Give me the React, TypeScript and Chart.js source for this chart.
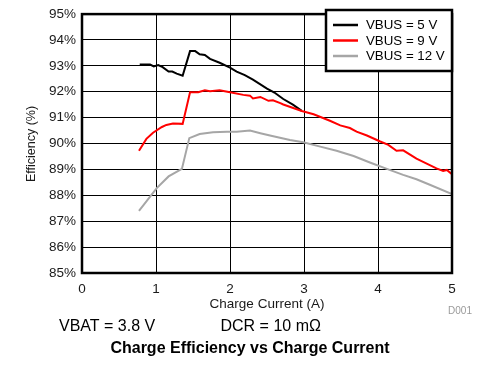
import React, { useEffect, useRef } from "react";
import { Chart, registerables } from "chart.js";

Chart.register(...registerables);

const seriesNames = ["VBUS = 5 V", "VBUS = 9 V", "VBUS = 12 V"];
const seriesColors = ["#000000", "#ff0000", "#a6a6a6"];

const vbus5X = [0.78, 0.92, 0.97, 1.03, 1.09, 1.17, 1.22, 1.28, 1.36, 1.46, 1.53, 1.59, 1.66, 1.73, 1.86, 2.0, 2.09, 2.2, 2.31, 2.5, 2.6, 2.72, 2.85, 2.97];
const vbus5Y = [93.05, 93.05, 92.98, 93.03, 92.95, 92.78, 92.78, 92.7, 92.62, 93.57, 93.57, 93.45, 93.42, 93.27, 93.12, 92.93, 92.78, 92.64, 92.47, 92.12, 91.97, 91.72, 91.5, 91.26];

const vbus9X = [0.77, 0.87, 0.96, 1.08, 1.14, 1.23, 1.36, 1.46, 1.57, 1.66, 1.73, 1.86, 2.0, 2.18, 2.27, 2.31, 2.41, 2.52, 2.58, 2.68, 2.72, 2.97, 3.13, 3.35, 3.49, 3.62, 3.71, 3.85, 4.03, 4.14, 4.25, 4.34, 4.52, 4.7, 4.79, 4.88, 4.93, 5.0];
const vbus9Y = [89.72, 90.18, 90.42, 90.64, 90.72, 90.77, 90.76, 91.98, 91.98, 92.06, 92.02, 92.06, 91.98, 91.88, 91.85, 91.74, 91.8, 91.65, 91.67, 91.56, 91.51, 91.26, 91.13, 90.88, 90.7, 90.6, 90.46, 90.31, 90.08, 89.95, 89.72, 89.74, 89.42, 89.17, 89.04, 88.94, 88.98, 88.81];

const vbus12X = [0.77, 1.01, 1.17, 1.35, 1.45, 1.59, 1.77, 1.96, 2.09, 2.27, 2.41, 2.54, 2.81, 2.99, 3.22, 3.44, 3.67, 3.89, 4.12, 4.34, 4.52, 4.7, 5.0];
const vbus12Y = [87.4, 88.28, 88.73, 89.02, 90.21, 90.37, 90.44, 90.46, 90.46, 90.5, 90.4, 90.31, 90.14, 90.05, 89.88, 89.72, 89.52, 89.27, 89.02, 88.79, 88.62, 88.41, 88.05];

const xTickValues = [0, 1, 2, 3, 4, 5];
const yTickValues = [85, 86, 87, 88, 89, 90, 91, 92, 93, 94, 95];

const xTitle = "Charge Current (A)";
const yTitle = "Efficiency (%)";
const noteLeft = "VBAT = 3.8 V";
const noteRight = "DCR = 10 mΩ";
const chartTitle = "Charge Efficiency vs Charge Current";
const figId = "D001";

const FONT = "'Liberation Sans', Arial, sans-serif";

function pts(xs: number[], ys: number[]) {
  return xs.map((x, i) => ({ x, y: ys[i] }));
}

const decorPlugin = {
  id: "decor",
  afterDraw(chart: any) {
    const { ctx, chartArea } = chart;
    const { left, right, top, bottom } = chartArea;
    ctx.save();
    // frame
    ctx.strokeStyle = "#000";
    ctx.lineWidth = 2.5;
    ctx.strokeRect(left, top, right - left, bottom - top);

    // legend
    const lx = 326, ly = 10, lw = right - 326, lh = 61;
    ctx.fillStyle = "#fff";
    ctx.fillRect(lx, ly, lw, lh);
    ctx.lineWidth = 2.5;
    ctx.strokeRect(lx, ly, lw, lh);
    const rows = [25, 40.5, 56];
    ctx.font = `13.3px ${FONT}`;
    ctx.textBaseline = "middle";
    ctx.textAlign = "left";
    seriesNames.forEach((n, i) => {
      ctx.strokeStyle = seriesColors[i];
      ctx.lineWidth = 2.5;
      ctx.beginPath();
      ctx.moveTo(333, rows[i]);
      ctx.lineTo(358, rows[i]);
      ctx.stroke();
      ctx.fillStyle = "#000";
      ctx.fillText(n, 366, rows[i] + 0.5);
    });

    // axis titles
    ctx.fillStyle = "#1a1a1a";
    ctx.font = `13.5px ${FONT}`;
    ctx.textAlign = "center";
    ctx.fillText(xTitle, (left + right) / 2, 304);
    ctx.save();
    ctx.translate(32, 144);
    ctx.rotate(-Math.PI / 2);
    ctx.font = `12.5px ${FONT}`;
    ctx.fillText(yTitle, 0, 0);
    ctx.restore();

    // id
    ctx.fillStyle = "#9a9a9a";
    ctx.font = `10px ${FONT}`;
    ctx.textAlign = "center";
    ctx.fillText(figId, 460, 311);

    // notes
    ctx.fillStyle = "#000";
    ctx.font = `16px ${FONT}`;
    ctx.textAlign = "left";
    ctx.fillText(noteLeft, 59, 327);
    ctx.fillText(noteRight, 220.5, 327);
    ctx.font = `bold 16px ${FONT}`;
    ctx.textAlign = "center";
    ctx.fillText(chartTitle, 250, 349);
    ctx.restore();
  },
};

export default function App() {
  const ref = useRef<HTMLCanvasElement | null>(null);
  useEffect(() => {
    if (!ref.current) return;
    const chart = new Chart(ref.current, {
      type: "line",
      data: {
        datasets: [
          { label: seriesNames[0], data: pts(vbus5X, vbus5Y), borderColor: seriesColors[0], borderWidth: 2, pointRadius: 0, tension: 0, order: 1 },
          { label: seriesNames[1], data: pts(vbus9X, vbus9Y), borderColor: seriesColors[1], borderWidth: 2, pointRadius: 0, tension: 0, order: 0 },
          { label: seriesNames[2], data: pts(vbus12X, vbus12Y), borderColor: seriesColors[2], borderWidth: 2, pointRadius: 0, tension: 0, order: 2 },
        ],
      },
      options: {
        responsive: false,
        animation: false,
        layout: { padding: { top: 10, right: 40, left: 0, bottom: 0 } },
        plugins: { legend: { display: false }, tooltip: { enabled: false } },
        scales: {
          x: {
            type: "linear",
            min: 0,
            max: 5,
            afterFit: (s: any) => { s.height = 96; },
            afterBuildTicks: (s: any) => { s.ticks = xTickValues.map((v) => ({ value: v })); },
            grid: { color: "#000", lineWidth: 1, drawTicks: false },
            border: { display: false },
            ticks: { color: "#1a1a1a", font: { family: FONT, size: 13.5 }, padding: 8, maxRotation: 0 },
          },
          y: {
            type: "linear",
            min: 85,
            max: 95,
            afterFit: (s: any) => { s.width = 82; },
            afterBuildTicks: (s: any) => { s.ticks = yTickValues.map((v) => ({ value: v })); },
            grid: { color: "#000", lineWidth: 1, drawTicks: false },
            border: { display: false },
            ticks: { color: "#1a1a1a", font: { family: FONT, size: 13.5 }, padding: 6, callback: (v: any) => `${v}%` },
          },
        },
      },
      plugins: [decorPlugin],
    });
    return () => chart.destroy();
  }, []);
  return (
    <div style={{ position: "fixed", left: 0, top: 0, width: 492, height: 369, background: "#fff" }}>
      <canvas ref={ref} width={492} height={369} style={{ width: 492, height: 369 }} />
    </div>
  );
}
